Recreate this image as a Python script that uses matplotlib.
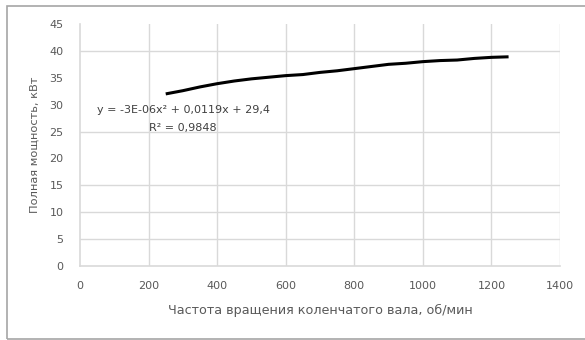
import matplotlib
matplotlib.use("Agg")
import matplotlib.pyplot as plt
from matplotlib.patches import Rectangle

rpm = [250, 300, 350, 400, 450, 500, 550, 600, 650, 700, 750, 800,
       850, 900, 950, 1000, 1050, 1100, 1150, 1200, 1250]
power = [32.0, 32.6, 33.3, 33.9, 34.4, 34.8, 35.1, 35.4, 35.6, 36.0, 36.3,
         36.7, 37.1, 37.5, 37.7, 38.0, 38.2, 38.3, 38.6, 38.8, 38.9]
x_ticks = [0, 200, 400, 600, 800, 1000, 1200, 1400]
y_ticks = [0, 5, 10, 15, 20, 25, 30, 35, 40, 45]
y_grid = [5, 10, 15, 25, 40]
eq_text = "y = -3E-06x² + 0,0119x + 29,4"
r2_text = "R² = 0,9848"
x_label = "Частота вращения коленчатого вала, об/мин"
y_label = "Полная мощность, кВт"

plt.rcParams['font.family'] = ['DejaVu Sans']
W, H = 585, 340
fig = plt.figure(figsize=(W / 100, H / 100), dpi=100)
ax = fig.add_axes([80 / W, 1 - 266 / H, 480 / W, 242 / H])

grid_c = "#d9d9d9"
txt_c = "#595959"
ax.plot(rpm, power, color="black", lw=2.2, solid_capstyle="butt")
ax.set_xlim(0, 1400)
ax.set_ylim(0, 45)
ax.set_xticks(x_ticks)
ax.set_yticks(y_ticks)
for xv in x_ticks[1:]:
    ax.axvline(xv, color=grid_c, lw=1, zorder=0)
for yv in y_grid:
    ax.axhline(yv, color=grid_c, lw=1, zorder=0)
for s in ["top", "right"]:
    ax.spines[s].set_visible(False)
for s in ["left", "bottom"]:
    ax.spines[s].set_color(grid_c)
    ax.spines[s].set_linewidth(1.2)
ax.tick_params(axis="both", length=0, labelsize=8, colors=txt_c)
ax.tick_params(axis="y", pad=12)
ax.tick_params(axis="x", pad=11)
ax.set_xlabel(x_label, fontsize=9.2, color=txt_c, labelpad=9)
ax.set_ylabel(y_label, fontsize=8.2, color=txt_c, labelpad=7)

ax.text(50, 29.0, eq_text, fontsize=8, color="#404040", va="center", ha="left")
ax.text(300, 25.6, r2_text, fontsize=8, color="#404040", va="center", ha="center")

fig.patches.append(Rectangle((7 / W, 1 - 339 / H), 1.0, 333 / H, transform=fig.transFigure,
                             fill=False, edgecolor="#a6a6a6", lw=1.2))
fig.savefig("out.png", dpi=100)
